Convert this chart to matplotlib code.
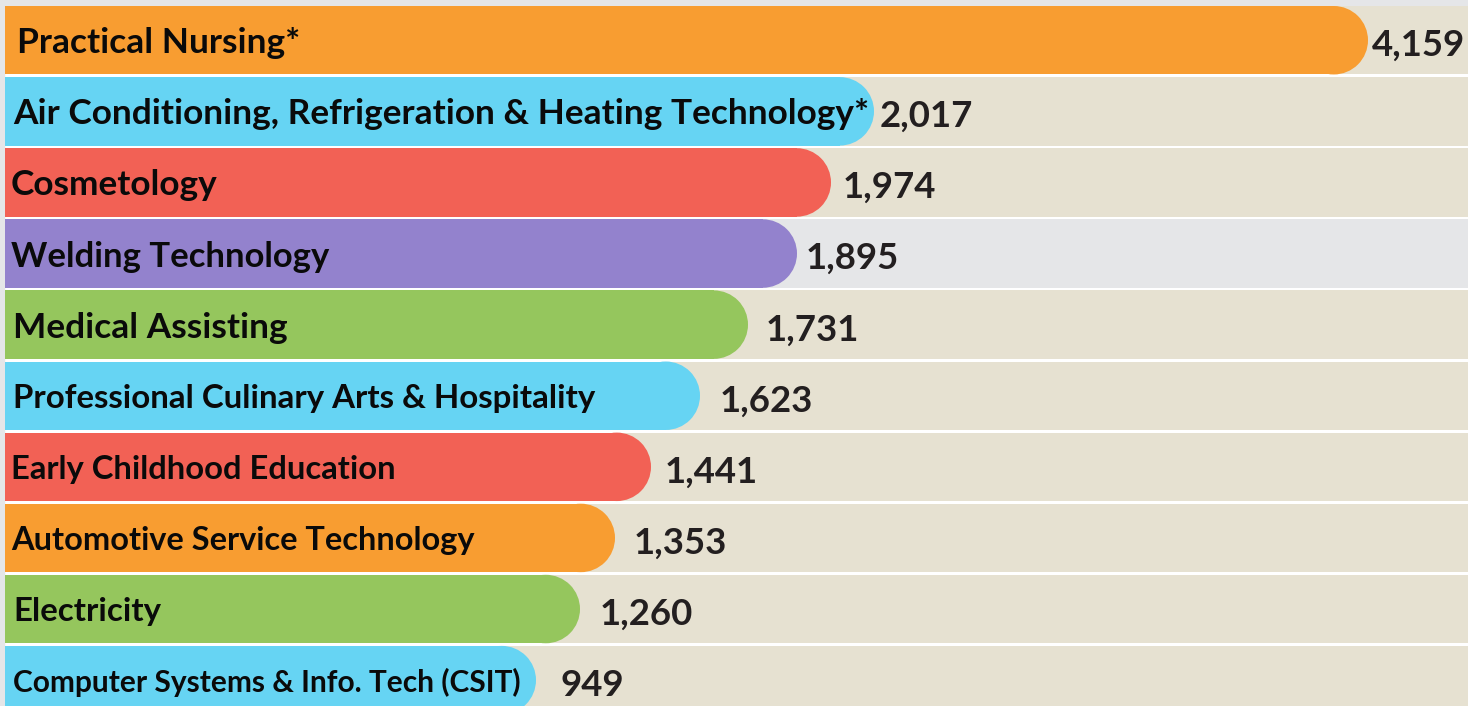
import matplotlib.pyplot as plt
from matplotlib.patches import Ellipse, Rectangle

programs = ['Practical Nursing*',
            'Air Conditioning, Refrigeration & Heating Technology*',
            'Cosmetology',
            'Welding Technology',
            'Medical Assisting',
            'Professional Culinary Arts & Hospitality',
            'Early Childhood Education',
            'Automotive Service Technology',
            'Electricity',
            'Computer Systems & Info. Tech (CSIT)']
students = [4159, 2017, 1974, 1895, 1731, 1623, 1441, 1353, 1260, 949]
# drawn length of each bar as it appears in the graphic (not to scale)
bar_len = [1363, 869, 826, 792, 743, 695, 646, 610, 575, 531]

colors = ['#F89D31', '#66D4F3', '#F26155', '#9382CD', '#95C65D',
          '#66D4F3', '#F26155', '#F89D31', '#95C65D', '#66D4F3']
row_bg = ['#E6E1D1'] * 10
row_bg[3] = '#E5E6E8'
label_size = [25.4, 25.4, 25.4, 24.9, 25.4, 23.8, 23.6, 23.4, 23.8, 21.5]
label_pad = [12, 8, 6, 6, 8, 8, 6, 6, 8, 8]
value_gap = [4, 6, 12, 9, 18, 20, 14, 19, 20, 24]

plt.rcParams['font.family'] = ['Lato', 'DejaVu Sans']

fig = plt.figure(figsize=(14.68, 7.06), dpi=100, facecolor='white')
ax = fig.add_axes([0, 0, 1, 1])
ax.set_facecolor('white')

pitch = 71.1       # pixels per row
h = 0.963          # bar height in row units
x0 = 5
r = h / 2 * pitch  # radius of the rounded end, in pixels
ax.set_xlim(0, 1468)
ax.set_ylim(-0.5 * h - 6 / pitch + 706 / pitch, -0.5 * h - 6 / pitch)
ax.axis('off')

# grey frame at top and left
ax.add_patch(Rectangle((0, -5), 1468, 5 - 0.5 * h, color='#E5E6E8', zorder=0))
ax.add_patch(Rectangle((0, -5), 4, 20, color='#E5E6E8', zorder=0))

for i, (name, val, ln) in enumerate(zip(programs, students, bar_len)):
    ax.add_patch(Rectangle((x0, i - h / 2), 1468 - x0, h, color=row_bg[i],
                           lw=0, zorder=1))
    ax.add_patch(Rectangle((x0, i - h / 2), ln - r, h, color=colors[i],
                           lw=0, zorder=2))
    ax.add_patch(Ellipse((x0 + ln - r, i), 2 * r, h, color=colors[i],
                         lw=0, zorder=2))
    ax.text(x0 + label_pad[i], i, name, fontsize=label_size[i],
            fontweight='bold', color='#0A0A0A', va='center_baseline',
            ha='left', zorder=3)
    ax.text(x0 + ln + value_gap[i], i + 0.03, f'{val:,}', fontsize=26.4,
            fontweight='bold', color='#231F20', va='center_baseline',
            ha='left', zorder=3)

plt.savefig('out.png', dpi=100, facecolor='white')
